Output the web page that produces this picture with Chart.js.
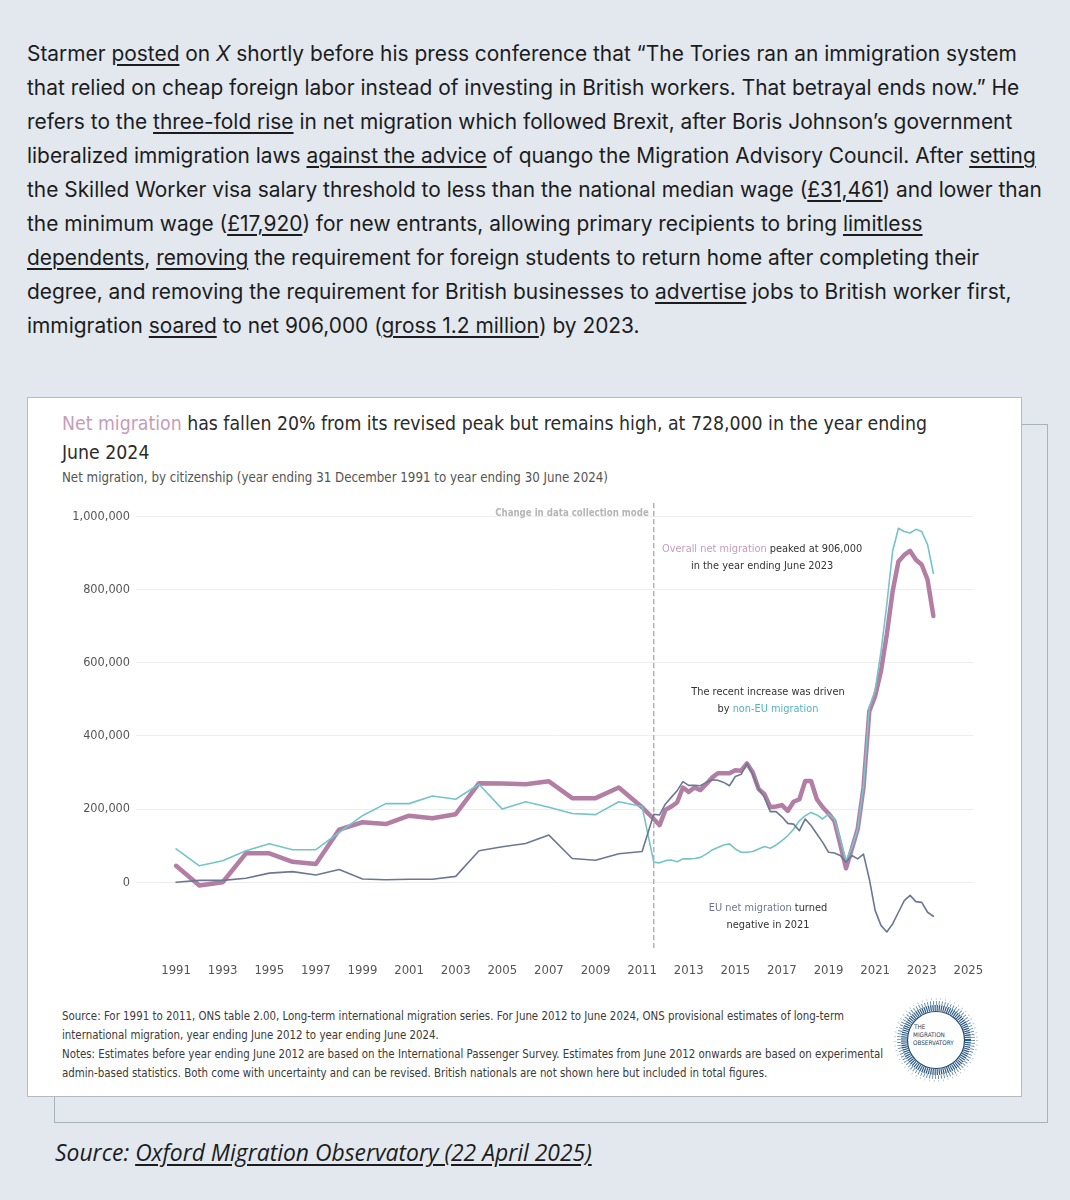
<!DOCTYPE html>
<html>
<head>
<meta charset="utf-8">
<script src="https://cdn.jsdelivr.net/npm/chart.js@4.4.1/dist/chart.umd.min.js"></script>
<style>
  body { margin: 0; width: 1070px; height: 1200px; background: #e2e8ee; position: relative; overflow: hidden; }
  .para { position: absolute; left: 27px; top: 37px; font-family: Inter, sans-serif; font-size: 20.9px; line-height: 34px; color: #1c1c1e; white-space: nowrap; }
  .para u { text-underline-offset: 3px; text-decoration-thickness: 1.5px; }
  .frame2 { position: absolute; left: 54px; top: 424px; width: 994px; height: 699px; border: 1.5px solid #a9b1b9; box-sizing: border-box; }
  .card { position: absolute; left: 27px; top: 397px; width: 995px; height: 700px; background: #fff; border: 1px solid #b4bbc3; box-sizing: border-box; }
  .tab { font-family: "DejaVu Sans Condensed", "Liberation Sans Narrow", sans-serif; position: absolute; white-space: nowrap; }
  .title { left: 62px; top: 409px; font-size: 19.3px; line-height: 29px; color: #2b2b2b; }
  .title span { color: #c49db9; }
  .subtitle { left: 62px; top: 469px; font-size: 13.2px; line-height: 18px; color: #555; }
  .notes { left: 62px; top: 1007px; font-size: 11.4px; line-height: 19px; color: #3a3a3a; }
  #wrap { position: absolute; left: 60px; top: 495px; width: 943px; height: 496px; }
  .logo { position: absolute; left: 891px; top: 996px; }
  .source { position: absolute; left: 55px; top: 1139px; font-family: "Open Sans", sans-serif; font-style: italic; font-size: 22.9px; line-height: 28px; color: #1c1c1e; white-space: nowrap; }
  .source u { text-underline-offset: 3px; }
</style>
</head>
<body>

<div class="para">
Starmer <u>posted</u> on <i>X</i> shortly before his press conference that “The Tories ran an immigration system<br>
that relied on cheap foreign labor instead of investing in British workers. That betrayal ends now.” He<br>
refers to the <u>three-fold rise</u> in net migration which followed Brexit, after Boris Johnson’s government<br>
liberalized immigration laws <u>against the advice</u> of quango the Migration Advisory Council. After <u>setting</u><br>
the Skilled Worker visa salary threshold to less than the national median wage (<u>£31,461</u>) and lower than<br>
the minimum wage (<u>£17,920</u>) for new entrants, allowing primary recipients to bring <u>limitless</u><br>
<u>dependents</u>, <u>removing</u> the requirement for foreign students to return home after completing their<br>
degree, and removing the requirement for British businesses to <u>advertise</u> jobs to British worker first,<br>
immigration <u>soared</u> to net 906,000 (<u>gross 1.2 million</u>) by 2023.
</div>

<div class="frame2"></div>
<div class="card"></div>

<div class="tab title"><span>Net migration</span> has fallen 20% from its revised peak but remains high, at 728,000 in the year ending<br>June 2024</div>
<div class="tab subtitle">Net migration, by citizenship (year ending 31 December 1991 to year ending 30 June 2024)</div>

<div id="wrap"><canvas id="chart"></canvas></div>

<div class="tab notes">Source: For 1991 to 2011, ONS table 2.00, Long-term international migration series. For June 2012 to June 2024, ONS provisional estimates of long-term<br>
international migration, year ending June 2012 to year ending June 2024.<br>
Notes: Estimates before year ending June 2012 are based on the International Passenger Survey. Estimates from June 2012 onwards are based on experimental<br>
admin-based statistics. Both come with uncertainty and can be revised. British nationals are not shown here but included in total figures.</div>

<svg class="logo" width="90" height="90" viewBox="0 0 90 90">
  <circle cx="45" cy="44" r="41" fill="none" stroke="#9db9cf" stroke-width="2" stroke-dasharray="0.7 4"/>
  <circle cx="45" cy="44" r="37" fill="none" stroke="#5f88aa" stroke-width="4" stroke-dasharray="0.9 2"/>
  <circle cx="45" cy="44" r="32" fill="none" stroke="#2c5a82" stroke-width="6" stroke-dasharray="1.2 0.9"/>
  <circle cx="45" cy="44" r="28.5" fill="none" stroke="#1f4b72" stroke-width="1.2"/>
  <g font-family="DejaVu Sans Condensed, sans-serif" font-size="6.3" fill="#1f3d5c">
    <text x="23" y="33">THE</text>
    <text x="22" y="41">MIGRATION</text>
    <text x="22" y="49">OBSERVATORY</text>
  </g>
</svg>

<div class="source">Source: <u>Oxford Migration Observatory (22 April 2025)</u></div>

<script>
// year ending (YYYY-MM): annual IPS series to 2011, then quarterly admin-based estimates
const periods = [
  "1991-12", "1992-12", "1993-12", "1994-12", "1995-12", "1996-12", "1997-12", "1998-12", "1999-12", "2000-12",
  "2001-12", "2002-12", "2003-12", "2004-12", "2005-12", "2006-12", "2007-12", "2008-12", "2009-12", "2010-12",
  "2011-12",
  "2012-06", "2012-09", "2012-12",
  "2013-03", "2013-06", "2013-09", "2013-12", "2014-03", "2014-06", "2014-09", "2014-12",
  "2015-03", "2015-06", "2015-09", "2015-12", "2016-03", "2016-06", "2016-09", "2016-12",
  "2017-03", "2017-06", "2017-09", "2017-12", "2018-03", "2018-06", "2018-09", "2018-12",
  "2019-03", "2019-06", "2019-09", "2019-12", "2020-03", "2020-06", "2020-09", "2020-12",
  "2021-03", "2021-06", "2021-09", "2021-12", "2022-03", "2022-06", "2022-09", "2022-12",
  "2023-03", "2023-06", "2023-09", "2023-12", "2024-03", "2024-06"
];

// net migration, thousands
const totalNet = [
  45, -9, 0, 79, 79, 56, 50, 144, 164, 159, 182, 175, 186, 271, 270, 268, 276, 230, 230, 259, 205,
  173, 156, 198, 207, 218, 259, 247, 259, 252, 268, 286, 298, 298, 298, 306, 305, 325, 300, 255, 241,
  205, 207, 211, 195, 220, 227, 277, 277, 227, 205, 188, 168, 105, 38, 91, 145, 259, 468, 509, 577,
  677, 795, 877, 895, 906, 882, 868, 827, 728
];
const nonEuNet = [
  91, 45, 59, 86, 105, 89, 89, 136, 182, 215, 215, 236, 227, 268, 200, 220, 205, 188, 185, 220, 207,
  55, 53, 59, 61, 56, 64, 64, 65, 68, 77, 88, 95, 102, 105, 91, 82, 82, 84, 91, 98,
  93, 102, 114, 127, 145, 168, 182, 191, 184, 173, 186, 173, 118, 59, 95, 145, 262, 478, 525, 630,
  759, 905, 968, 959, 955, 965, 959, 923, 845
];
const euNet = [
  0, 5, 5, 11, 25, 29, 20, 35, 9, 7, 8, 8, 16, 86, 97, 106, 129, 65, 60, 78, 84,
  186, 184, 214, 232, 250, 275, 265, 265, 264, 273, 280, 279, 273, 264, 289, 295, 325, 295, 255, 232,
  193, 193, 179, 161, 159, 141, 173, 155, 132, 109, 82, 80, 73, 55, 73, 64, 77, 9, -77, -118,
  -136, -114, -82, -50, -36, -53, -55, -82, -93
];

const yearTicks = [1991, 1993, 1995, 1997, 1999, 2001, 2003, 2005, 2007, 2009, 2011, 2013, 2015, 2017, 2019, 2021, 2023, 2025];
const valueTicks = [0, 200000, 400000, 600000, 800000, 1000000];
const modeChange = "2012-06";

const pink = "#b37ea4";
const teal = "#74c4ca";
const slate = "#6d7793";
const tabFont = '"DejaVu Sans Condensed", "Liberation Sans Narrow", sans-serif';

// "1991-12" -> 1991.0, "2012-06" -> 2011.5 (matches the picture's year labels)
function toX(p) {
  const [yy, mm] = p.split("-").map(Number);
  return yy + mm / 12 - 1;
}

function points(values) {
  return values.map((v, i) => ({ x: toX(periods[i]), y: v * 1000 }));
}

const notes = [
  { x: 2016.15, y: 911000, lines: [[["Overall net migration", "#c49db9"], [" peaked at 906,000", "#333"]], [["in the year ending June 2023", "#333"]]] },
  { x: 2016.4, y: 520000, lines: [[["The recent increase was driven", "#333"]], [["by ", "#333"], ["non-EU migration", "#4fb4be"]]] },
  { x: 2016.4, y: -70000, lines: [[["EU net migration", "#6d7793"], [" turned", "#333"]], [["negative in 2021", "#333"]]] }
];

const annotate = {
  id: "annotate",
  beforeDatasetsDraw(chart) {
    const { ctx, chartArea, scales } = chart;
    const px = scales.x.getPixelForValue(toX(modeChange));
    ctx.save();
    ctx.strokeStyle = "#b3b3b3";
    ctx.lineWidth = 1.5;
    ctx.setLineDash([5, 3]);
    ctx.beginPath();
    ctx.moveTo(px, chartArea.top);
    ctx.lineTo(px, chartArea.bottom);
    ctx.stroke();
    ctx.setLineDash([]);
    ctx.font = "bold 9.6px " + tabFont;
    ctx.fillStyle = "#b5b5b5";
    ctx.textAlign = "right";
    ctx.textBaseline = "middle";
    ctx.fillText("Change in data collection mode", px - 5, chartArea.top + 10);
    ctx.restore();
  },
  afterDatasetsDraw(chart) {
    const { ctx, scales } = chart;
    ctx.save();
    ctx.font = "10.9px " + tabFont;
    ctx.textBaseline = "middle";
    ctx.textAlign = "left";
    notes.forEach(n => {
      const cx = scales.x.getPixelForValue(n.x);
      const cy = scales.y.getPixelForValue(n.y);
      n.lines.forEach((segs, li) => {
        const w = segs.reduce((s, g) => s + ctx.measureText(g[0]).width, 0);
        let left = cx - w / 2;
        segs.forEach(g => {
          ctx.fillStyle = g[1];
          ctx.fillText(g[0], left, cy + li * 17);
          left += ctx.measureText(g[0]).width;
        });
      });
    });
    ctx.restore();
  }
};

new Chart(document.getElementById("chart"), {
  type: "line",
  data: {
    datasets: [
      { label: "EU", data: points(euNet), borderColor: slate, borderWidth: 1.6, order: 1 },
      { label: "Non-EU", data: points(nonEuNet), borderColor: teal, borderWidth: 1.6, order: 2 },
      { label: "Total", data: points(totalNet), borderColor: pink, borderWidth: 4.5, order: 3 }
    ]
  },
  options: {
    responsive: true,
    maintainAspectRatio: false,
    animation: false,
    layout: { padding: { top: 8, right: 30, left: 0, bottom: 0 } },
    elements: { point: { radius: 0 }, line: { tension: 0, borderJoinStyle: "round", borderCapStyle: "round" } },
    plugins: { legend: { display: false }, tooltip: { enabled: false } },
    scales: {
      x: {
        type: "linear",
        min: 1989.28,
        max: 2025.2,
        grid: { display: false, drawTicks: false },
        border: { display: false },
        afterBuildTicks: s => { s.ticks = yearTicks.map(v => ({ value: v })); },
        afterFit: s => { s.height = 40; s.paddingLeft = 0; s.paddingRight = 0; },
        ticks: {
          autoSkip: false, maxRotation: 0, padding: 12,
          color: "#555", font: { family: tabFont, size: 13 },
          callback: v => String(v)
        }
      },
      y: {
        min: -188000,
        max: 1037000,
        grid: { color: "#eeeeee", drawTicks: false },
        border: { display: false },
        afterBuildTicks: s => { s.ticks = valueTicks.map(v => ({ value: v })); },
        afterFit: s => { s.width = 76; s.paddingTop = 0; s.paddingBottom = 0; },
        ticks: {
          padding: 6, color: "#555", font: { family: tabFont, size: 12.6 },
          callback: v => v.toLocaleString("en-US")
        }
      }
    }
  },
  plugins: [annotate]
});
</script>
</body>
</html>
